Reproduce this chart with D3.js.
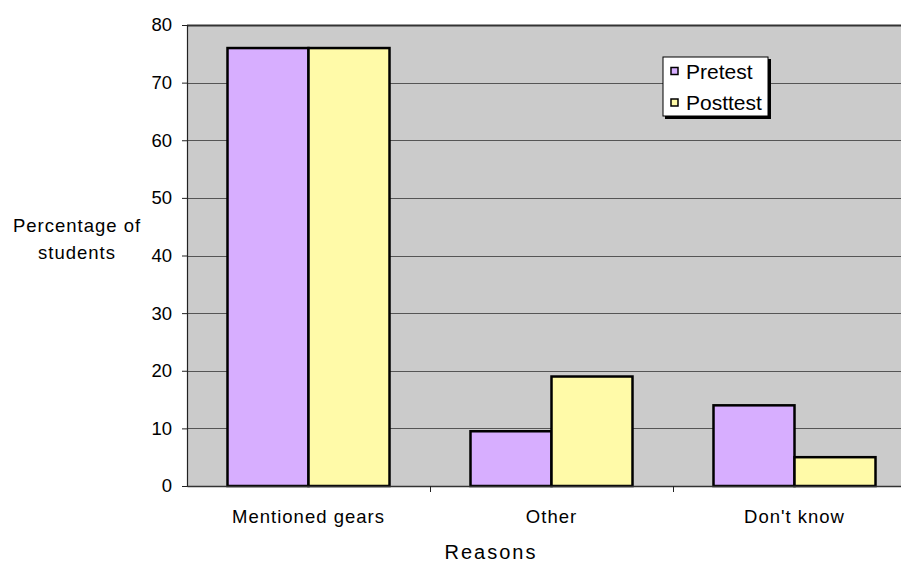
<!DOCTYPE html>
<html>
<head>
<meta charset="utf-8">
<script src="https://cdn.jsdelivr.net/npm/d3@7"></script>
<style>
  body { margin: 0; background: #fff; }
  text { font-family: "Liberation Sans", Arial, sans-serif; fill: #000; }
</style>
</head>
<body>
<svg id="chart" width="901" height="564"></svg>
<script>
//Chart data
var categories = ["Mentioned gears", "Other", "Don't know"];
var seriesNames = ["Pretest", "Posttest"];
var pretest = [76, 9.5, 14];
var posttest = [76, 19, 5];
var yTicks = [0, 10, 20, 30, 40, 50, 60, 70, 80];
var colors = ["#d7aeff", "#fffaa8"];

var svg = d3.select("svg#chart");

//Plot area (runs past the right edge of the window like the original)
var plotLeft = 187, plotRight = 916, plotTop = 25, plotBottom = 486;

var x0 = d3.scaleBand()
  .domain(categories)
  .range([plotLeft, plotRight])
  .paddingInner(0)
  .paddingOuter(0);

var x1 = d3.scaleBand()
  .domain(seriesNames)
  .range([0, x0.bandwidth()])
  .paddingOuter(0.5)
  .paddingInner(0);

var y = d3.scaleLinear()
  .domain([0, 80])
  .range([plotBottom, plotTop]);

//Gray background
svg.append("rect")
  .attr("x", plotLeft)
  .attr("y", plotTop)
  .attr("width", plotRight - plotLeft)
  .attr("height", plotBottom - plotTop)
  .style("fill", "#cbcbcb");

//Grid lines
svg.append("g")
  .selectAll("line")
  .data(yTicks.slice(1))
  .enter().append("line")
    .attr("x1", plotLeft)
    .attr("x2", plotRight)
    .attr("y1", function (d) { return Math.round(y(d)) + 0.5; })
    .attr("y2", function (d) { return Math.round(y(d)) + 0.5; })
    .style("stroke", function (d) { return d == 80 ? "#333" : "#555"; })
    .style("stroke-width", function (d) { return d == 80 ? 2 : 1.2; });

//Bars
var rows = categories.map(function (c, i) {
  return { category: c, values: [pretest[i], posttest[i]] };
});

var groups = svg.append("g")
  .selectAll("g")
  .data(rows)
  .enter().append("g")
    .attr("transform", function (d) { return "translate(" + x0(d.category) + ",0)"; });

groups.selectAll("rect")
  .data(function (d) {
    return d.values.map(function (v, i) { return { name: seriesNames[i], value: v, i: i }; });
  })
  .enter().append("rect")
    .attr("x", function (d) { return x1(d.name); })
    .attr("y", function (d) { return y(d.value); })
    .attr("width", x1.bandwidth())
    .attr("height", function (d) { return y(0) - y(d.value); })
    .style("fill", function (d) { return colors[d.i]; })
    .style("stroke", "#000")
    .style("stroke-width", 2.5);

//Y axis
var yAxis = svg.append("g")
  .attr("transform", "translate(" + plotLeft + ",0)")
  .call(d3.axisLeft(y).tickValues(yTicks).tickSize(5).tickPadding(10));
yAxis.select(".domain").style("stroke", "#222").style("stroke-width", 1.2);
yAxis.selectAll(".tick line").style("stroke", "#222");
yAxis.selectAll("text")
  .style("font-size", "18.5px")
  .style("font-family", "Liberation Sans, Arial, sans-serif");

//X axis
var xAxis = svg.append("g")
  .attr("transform", "translate(0," + plotBottom + ")")
  .call(d3.axisBottom(x0).tickSize(0).tickPadding(24));
xAxis.select(".domain").style("stroke", "#333").style("stroke-width", 1.5);
xAxis.selectAll("text")
  .style("font-size", "18.5px")
  .style("letter-spacing", "1px")
  .style("font-family", "Liberation Sans, Arial, sans-serif");

//Category separator ticks
svg.append("g")
  .selectAll("line")
  .data(categories.slice(1))
  .enter().append("line")
    .attr("x1", function (d) { return Math.round(x0(d)) + 0.5; })
    .attr("x2", function (d) { return Math.round(x0(d)) + 0.5; })
    .attr("y1", plotBottom)
    .attr("y2", plotBottom + 6)
    .style("stroke", "#222");

//Axis titles
var yTitle = svg.append("text")
  .attr("text-anchor", "middle")
  .style("font-size", "18.5px")
  .style("letter-spacing", "1px");
yTitle.append("tspan").attr("x", 77).attr("y", 232).text("Percentage of");
yTitle.append("tspan").attr("x", 77).attr("y", 259).text("students");

svg.append("text")
  .attr("x", 491)
  .attr("y", 559)
  .attr("text-anchor", "middle")
  .style("font-size", "20px")
  .style("letter-spacing", "2px")
  .text("Reasons");

//Legend
var legend = svg.append("g").attr("transform", "translate(663,57)");
legend.append("rect")
  .attr("x", 2).attr("y", 2)
  .attr("width", 106).attr("height", 60)
  .style("fill", "#000");
legend.append("rect")
  .attr("width", 105).attr("height", 59)
  .style("fill", "#fff")
  .style("stroke", "#000")
  .style("stroke-width", 1);

var items = legend.selectAll("g.item")
  .data(seriesNames)
  .enter().append("g")
    .attr("class", "item")
    .attr("transform", function (d, i) { return "translate(0," + (i * 31.5) + ")"; });

items.append("rect")
  .attr("x", 8).attr("y", 10.5)
  .attr("width", 7).attr("height", 7)
  .style("fill", function (d, i) { return colors[i]; })
  .style("stroke", "#000")
  .style("stroke-width", 1.5);

items.append("text")
  .attr("x", 23)
  .attr("y", 21.5)
  .style("font-size", "21px")
  .text(function (d) { return d; });
</script>
</body>
</html>
